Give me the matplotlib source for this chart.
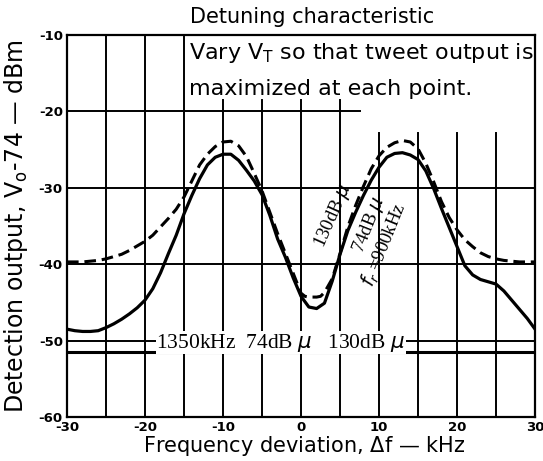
import numpy as np
import matplotlib
matplotlib.use("Agg")
import matplotlib.pyplot as plt

plt.rcParams['axes.unicode_minus'] = False

# frequency deviation, kHz
df = [-30, -29, -28, -27, -26, -25, -24, -23, -22, -21, -20, -19, -18, -17, -16,
      -15, -14, -13, -12, -11, -10, -9, -8, -7, -6, -5, -4, -3, -2, -1, 0,
      1, 2, 3, 4, 5, 6, 7, 8, 9, 10, 11, 12, 13, 14, 15, 16, 17, 18, 19, 20,
      21, 22, 23, 24, 25, 26, 27, 28, 29, 30]

# fr=900kHz, 74dBu (solid)
out_74 = [-48.5, -48.7, -48.8, -48.8, -48.7, -48.3, -47.8, -47.2, -46.5, -45.7,
          -44.7, -43.2, -41.1, -38.6, -36.2, -33.4, -31.0, -28.8, -27.0, -26.0,
          -25.6, -25.6, -26.4, -27.7, -29.1, -30.9, -33.6, -36.7, -39.1, -41.8,
          -44.2, -45.6, -45.8, -45.1, -42.2, -38.7, -35.6, -33.2, -31.0, -29.0,
          -27.3, -26.0, -25.5, -25.4, -25.7, -26.3, -27.8, -30.1, -32.7, -35.2,
          -37.7, -40.2, -41.4, -42.0, -42.3, -42.6, -43.5, -44.7, -45.9, -47.1,
          -48.5]

# fr=900kHz, 130dBu (dashed)
df_130 = [-30, -29, -28, -27, -26, -25, -24, -23, -22, -21, -20, -19, -18, -17,
          -16, -15, -14, -13, -12, -11, -10, -9, -8, -7, -6, -5, -4, -3, -2, -1,
          0, 0.5, 1, 2, 2.5, 3, 4, 5, 6, 7, 8, 9, 10, 11, 12, 13, 14, 15, 16, 17,
          18, 19, 20, 21, 22, 23, 24, 25, 26, 27, 28, 29, 30]
out_130 = [-39.7, -39.7, -39.7, -39.6, -39.5, -39.3, -39.0, -38.7, -38.2, -37.6,
           -37.0, -36.2, -35.1, -34.0, -32.8, -31.2, -29.1, -27.0, -25.6, -24.6,
           -24.0, -23.9, -24.5, -25.9, -28.1, -30.4, -33.2, -36.0, -38.6, -41.2,
           -43.8, -44.2, -44.3, -44.3, -44.2, -43.7, -41.9, -38.6, -35.1, -32.3,
           -29.8, -27.5, -25.8, -24.7, -24.1, -23.8, -24.0, -24.9, -26.8, -29.2,
           -31.8, -33.9, -35.5, -36.8, -37.7, -38.5, -39.0, -39.3, -39.5, -39.6,
           -39.7, -39.7, -39.7]

# fr=1350kHz, 74dBu and 130dBu (flat)
df_1350 = [-30, 30]
out_1350 = [-51.5, -51.5]

xticks = [-30, -20, -10, 0, 10, 20, 30]
yticks = [-60, -50, -40, -30, -20, -10]

fig = plt.figure(figsize=(5.43, 4.61), dpi=100)
ax = fig.add_axes([0.1234, 0.0954, 0.862, 0.8286])
ax.set_xlim(-30, 30)
ax.set_ylim(-60, -10)

# hand-drawn style grid
for v in [-25, -20, -15]:
    ax.axvline(v, color='black', lw=1.4, zorder=1)
for v in [-10, -5, 0, 5]:
    ax.axvline(v, ymax=0.83, color='black', lw=1.4, zorder=1)
for v in [10, 15, 20, 25]:
    ax.axvline(v, ymax=0.744, color='black', lw=1.4, zorder=1)
ax.axhline(-20, xmax=0.627, color='black', lw=1.4, zorder=1)
for h in [-30, -40, -50]:
    ax.axhline(h, color='black', lw=1.4, zorder=1)

ax.plot(df, out_74, color='black', lw=2.3, zorder=3)
ax.plot(df_130, out_130, color='black', lw=2.2, dashes=(3.8, 1.9), zorder=3)
ax.plot(df_1350, out_1350, color='black', lw=2.2, zorder=3)

for s in ax.spines.values():
    s.set_linewidth(1.6)

ax.set_xticks(xticks)
ax.set_yticks(yticks)
ax.set_xticklabels([str(t) for t in xticks], fontsize=9.5, fontweight='bold')
ax.set_yticklabels([str(t) for t in yticks], fontsize=9.5, fontweight='bold')
ax.tick_params(length=0, pad=3)

ax.set_xlabel("Frequency deviation, $\\Delta$f \u2014 kHz", fontsize=15)
ax.xaxis.set_label_coords(0.507, -0.045)
ax.set_ylabel("Detection output, V$_\\mathrm{o}$-74 \u2014 dBm", fontsize=17)
ax.yaxis.set_label_coords(-0.078, 0.5)

fig.text(0.575, 0.963, "Detuning characteristic", fontsize=15,
         ha='center', va='center')

ax.text(-14.3, -12.3, "Vary V$_\\mathrm{T}$ so that tweet output is",
        fontsize=16, ha='left', va='center', zorder=4)
ax.text(-14.3, -17.0, "maximized at each point.",
        fontsize=16, ha='left', va='center', zorder=4)

serif = ['Liberation Serif', 'DejaVu Serif']
ax.text(-2.6, -50.3, "1350kHz  74dB $\\mu$   130dB $\\mu$", family=serif,
        fontsize=15.5, ha='center', va='center', zorder=4,
        bbox=dict(facecolor='white', edgecolor='none', pad=0.3))
ax.text(4.1, -33.6, "130dB $\\mu$", family=serif, fontsize=13.5,
        rotation=66, ha='center', va='center', zorder=4)
ax.text(8.7, -34.8, "74dB $\\mu$", family=serif, fontsize=13.5,
        rotation=68, ha='center', va='center', zorder=4)
ax.text(10.7, -37.5, "$f_r$ =900kHz", family=serif, fontsize=13.5,
        rotation=68, ha='center', va='center', zorder=4)

plt.savefig("out.png", dpi=100)
